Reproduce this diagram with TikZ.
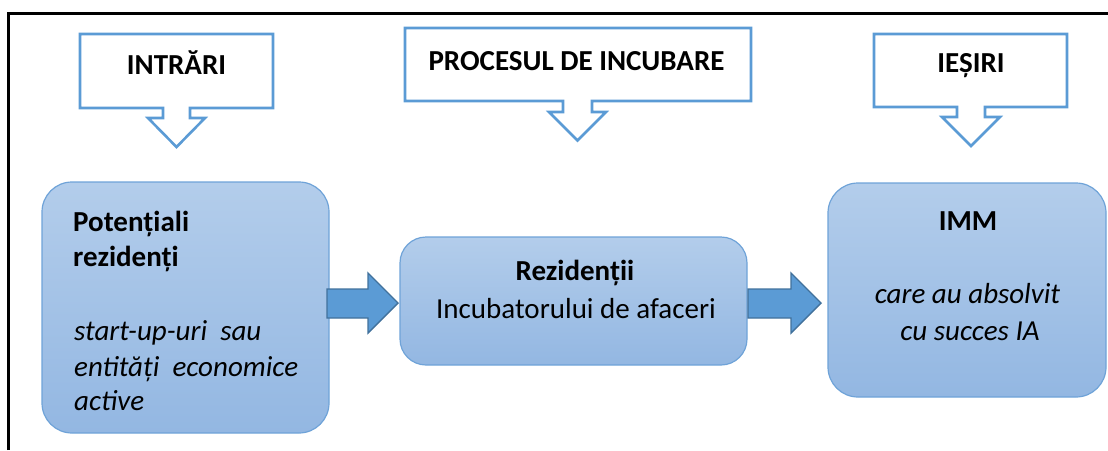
\documentclass[tikz,border=0pt]{standalone}
\usepackage{fontspec}
\setmainfont{Carlito}
\definecolor{callblue}{HTML}{5B9BD5}
\definecolor{arrowfill}{HTML}{5B9BD5}
\definecolor{arrowline}{HTML}{41719C}
\definecolor{boxtop}{HTML}{B3CDEB}
\definecolor{boxbot}{HTML}{93B7E2}
\definecolor{boxline}{HTML}{6FA3D8}
\tikzset{
  callout/.style={draw=callblue, line width=2.6pt, fill=white, line join=miter},
  blockarrow/.style={draw=arrowline, line width=1.4pt, fill=arrowfill, line join=miter},
  bluebox/.style={draw=boxline, line width=1.2pt, top color=boxtop, bottom color=boxbot, minimum width=#1},
  lbl/.style={inner sep=0pt, font=\fontsize{29}{35}\selectfont},
  frameline/.style={line width=3pt, black}
}
\begin{document}
\begin{tikzpicture}[x=1pt, y=-1pt]
\useasboundingbox (0,0) rectangle (1108,450);
% frame
\draw[frameline] (8,450) -- (8,13) -- (1108,13);
% callouts
\draw[callout] (80,34) -- (273,34) -- (273,108) -- (190,108) -- (190,118) -- (205,118) -- (176.5,147) -- (148,118) -- (163,118) -- (163,108) -- (80,108) -- cycle;
\draw[callout] (405,28) -- (751,28) -- (751,101) -- (592,101) -- (592,112) -- (606,112) -- (577.5,140.5) -- (549,112) -- (563,112) -- (563,101) -- (405,101) -- cycle;
\draw[callout] (874,34) -- (1067,34) -- (1067,107) -- (985,107) -- (985,117) -- (1000,117) -- (971,146) -- (942,117) -- (957,117) -- (957,107) -- (874,107) -- cycle;
\node[lbl, anchor=base, font=\fontsize{29}{35}\selectfont\bfseries] (tin) at (176.5,74) {INTRĂRI};
\node[lbl, anchor=base, font=\fontsize{29}{35}\selectfont\bfseries] (tproc) at (576.5,70) {PROCESUL DE INCUBARE};
\node[lbl, anchor=base, font=\fontsize{29}{35}\selectfont\bfseries] (tout) at (971,72) {IEȘIRI};
% boxes
\node[bluebox=287pt, minimum height=251pt, rounded corners=30pt] (b1) at (185.5,307.5) {};
\node[bluebox=347pt, minimum height=128pt, rounded corners=26pt] (b2) at (573.5,301) {};
\node[bluebox=278pt, minimum height=214pt, rounded corners=30pt] (b3) at (967,290) {};
% block arrows
\draw[blockarrow] (327,289) -- (368,289) -- (368,273) -- (398,303) -- (368,333) -- (368,318) -- (327,318) -- cycle;
\draw[blockarrow] (748,289) -- (791,289) -- (791,273) -- (821,303) -- (791,333) -- (791,318) -- (748,318) -- cycle;
% box 1 text
\node[lbl, anchor=base west, font=\fontsize{29}{35}\selectfont\bfseries] (p1) at (73,231.5) {Potențiali};
\node[lbl, anchor=base west, font=\fontsize{29}{35}\selectfont\bfseries] (p2) at (73,266.5) {rezidenți};
\node[lbl, anchor=base west, font=\fontsize{29}{35}\selectfont\itshape] (p3) at (74,340.5) {start-up-uri\ \ sau};
\node[lbl, anchor=base west, font=\fontsize{29}{35}\selectfont\itshape] (p4) at (74,376.5) {entități\ \ economice};
\node[lbl, anchor=base west, font=\fontsize{29}{35}\selectfont\itshape] (p5) at (74,410) {active};
% box 2 text
\node[lbl, anchor=base, font=\fontsize{29}{35}\selectfont\bfseries] (r1) at (575,280) {Rezidenții};
\node[lbl, anchor=base] (r2) at (576,318) {Incubatorului de afaceri};
% box 3 text
\node[lbl, anchor=base, font=\fontsize{29}{35}\selectfont\bfseries] (i1) at (968,230) {IMM};
\node[lbl, anchor=base, font=\fontsize{29}{35}\selectfont\itshape] (i2) at (967.5,303) {care au absolvit};
\node[lbl, anchor=base, font=\fontsize{29}{35}\selectfont\itshape] (i3) at (970,340) {cu succes IA};
\end{tikzpicture}
\end{document}
